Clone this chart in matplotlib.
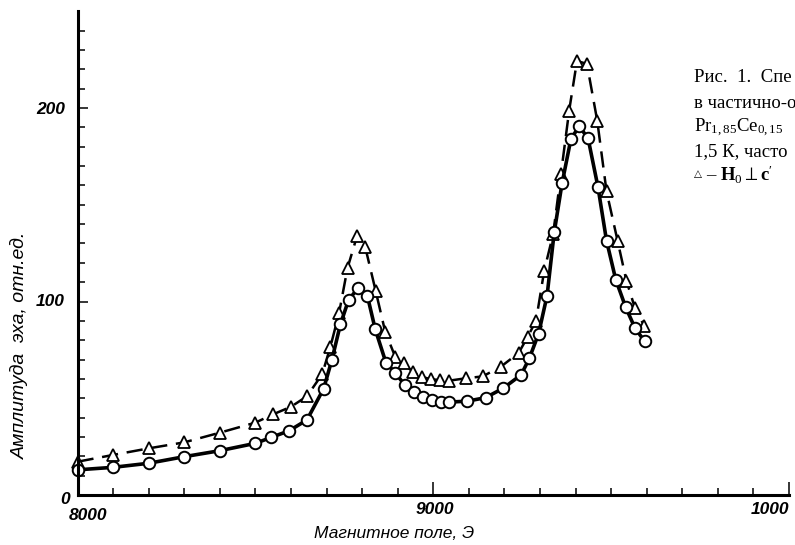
import matplotlib
matplotlib.use("Agg")
import matplotlib.pyplot as plt
from matplotlib.transforms import offset_copy

# кружки (сплошная линия): поле, Э и амплитуда, отн.ед.
field_o = [8000, 8100, 8200, 8300, 8400, 8500, 8545, 8595, 8645, 8692, 8715, 8739,
           8762, 8788, 8815, 8837, 8867, 8893, 8920, 8945, 8970, 8997, 9021, 9044,
           9096, 9147, 9197, 9247, 9270, 9296, 9320, 9340, 9362, 9387, 9410, 9435,
           9463, 9487, 9513, 9541, 9567, 9594]
amp_o = [13, 14.3, 16.4, 19.8, 22.9, 26.7, 29.8, 33.2, 38.8, 55, 69.8, 88.2,
         100.8, 106.8, 102.8, 85.6, 68.4, 63.2, 56.8, 53.4, 50.8, 49, 48, 48,
         48.5, 50.3, 55.2, 62.1, 70.6, 83.3, 103.1, 135.7, 161, 184, 190.5, 184.5,
         159.2, 131.5, 111.3, 97, 86.3, 79.5]

# треугольники (штриховая линия)
field_t = [8000, 8100, 8200, 8300, 8400, 8500, 8550, 8600, 8645, 8688, 8711, 8735,
           8759, 8786, 8809, 8838, 8865, 8893, 8917, 8942, 8967, 8994, 9020, 9045,
           9091, 9139, 9190, 9240, 9265, 9289, 9312, 9337, 9359, 9382, 9404, 9432,
           9461, 9487, 9518, 9543, 9567, 9593]
amp_t = [17.2, 20.7, 24.1, 27.2, 32.2, 37.4, 41.7, 45.6, 51, 62.5, 76.7, 93.8,
         117.3, 134, 128, 105.6, 84.3, 71.5, 68, 63.7, 61.1, 59.8, 59.4, 59.1,
         60.3, 61.3, 66.3, 73.4, 81.6, 90.1, 116, 134.8, 165.9, 198.6, 224.3, 222.8,
         193.4, 157, 131.5, 110.7, 96.6, 87.4]

xticks_major = [8000, 9000, 10000]
xticks_minor = list(range(8100, 10000, 100))
yticks_major = [0, 100, 200]
yticks_minor = [v for v in range(10, 250, 10) if v % 100]

caption = ["Рис.  1.  Спе",
           "в частично-о",
           r"Pr$_{1,85}$Ce$_{0,15}$",
           "1,5 К, часто",
           r"– $\mathbf{H}_0\perp\mathbf{c}'$"]

plt.rcParams['mathtext.fontset'] = 'custom'
plt.rcParams['mathtext.rm'] = 'Liberation Serif'
plt.rcParams['mathtext.it'] = 'Liberation Serif:italic'
plt.rcParams['mathtext.bf'] = 'Liberation Serif:bold'
plt.rcParams['mathtext.fallback'] = 'stix'

W, H = 795, 545
fig = plt.figure(figsize=(W / 100, H / 100), dpi=100)
ax = fig.add_axes([77.5 / W, 50 / H, 711.5 / W, 483.75 / H])

ax.plot(field_t, amp_t, color='black', lw=1.8, dashes=(6.5, 3.5),
        marker='^', ms=8, mfc='white', mec='black', mew=1.3, clip_on=False)
ax.plot(field_o, amp_o, color='black', lw=2.6,
        marker='o', ms=8.3, mfc='white', mec='black', mew=1.4, clip_on=False)

ax.set_xlim(8000, 10000)
ax.set_ylim(0, 250)
for s in ['top', 'right']:
    ax.spines[s].set_visible(False)
for s in ['left', 'bottom']:
    ax.spines[s].set_linewidth(2.2)

ax.set_xticks(xticks_major)
ax.set_xticks(xticks_minor, minor=True)
ax.set_yticks(yticks_major)
ax.set_yticks(yticks_minor, minor=True)
ax.tick_params(which='both', direction='in', width=1.1, labelbottom=False, labelleft=False)
ax.tick_params(axis='x', which='major', length=9.4)
ax.tick_params(axis='x', which='minor', length=5)
ax.tick_params(axis='y', which='major', length=7.2)
ax.tick_params(axis='y', which='minor', length=5)

numfont = dict(family='Liberation Sans', style='italic', weight='bold', fontsize=12.5)

# подписи оси x (последняя подпись в оригинале обрезана: "1000")
for v, txt, dx, dy, ha in [(8000, '8000', 10.5, -20, 'center'),
                           (9000, '9000', 1.5, -15, 'center'),
                           (10000, '1000', 0, -15, 'right')]:
    tr = offset_copy(ax.get_xaxis_transform(), fig, x=dx, y=dy, units='dots')
    ax.text(v, 0, txt, transform=tr, ha=ha, va='center', clip_on=False, **numfont)

# подписи оси y
for v, txt, dx, dy in [(0, '0', -7.5, -5), (100, '100', -12.5, 0), (200, '200', -12.5, -2)]:
    tr = offset_copy(ax.get_yaxis_transform(), fig, x=dx, y=dy, units='dots')
    ax.text(0, v, txt, transform=tr, ha='right', va='center', clip_on=False, **numfont)

fig.text(20 / W, 1 - 345 / H, 'Амплитуда  эха, отн.ед.', rotation=90,
         ha='center', va='center', family='Liberation Sans', style='italic', fontsize=14)
fig.text(394 / W, 1 - 533 / H, 'Магнитное поле, Э', ha='center', va='center',
         family='Liberation Sans', style='italic', fontsize=12.5)

capfont = dict(family=['Liberation Serif', 'DejaVu Serif'], fontsize=13.5)
for i, line in enumerate(caption):
    yy = [77, 103, 128, 152, 175][i]
    xx = 706 if i == 4 else 694
    fig.text(xx / W, 1 - yy / H, line, ha='left', va='center', **capfont)
# маленький треугольник перед "– H0"
fig.text(694 / W, 1 - 174 / H, '△', ha='left', va='center',
         family='DejaVu Sans', fontsize=7.5)

fig.savefig('out.png', dpi=100)
